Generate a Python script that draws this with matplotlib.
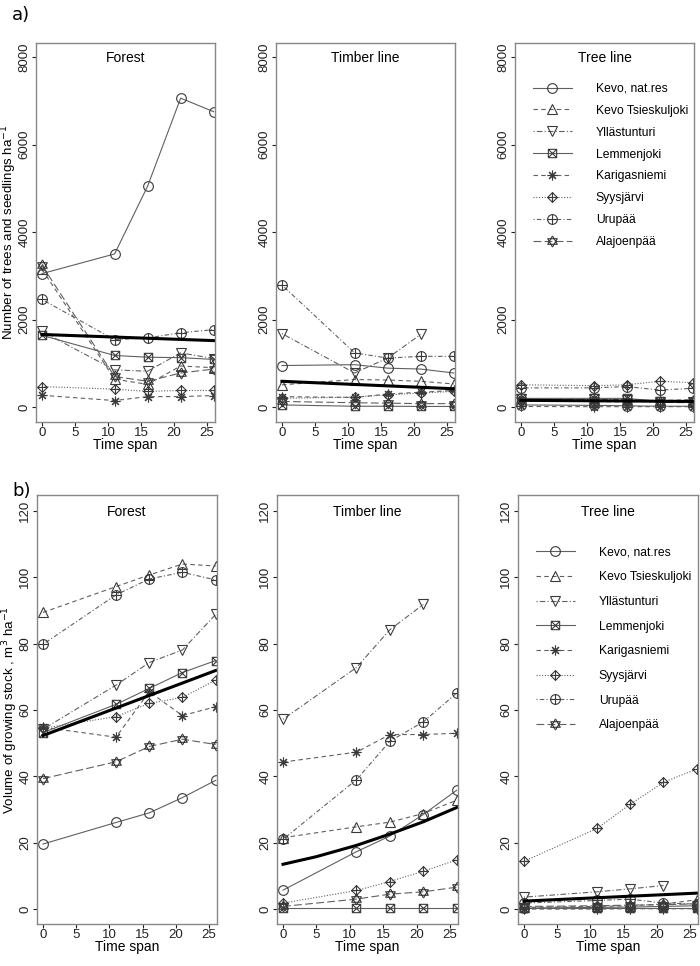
# Figure: a) number of trees and seedlings, b) volume of growing stock
import numpy as np
import matplotlib.pyplot as plt
from matplotlib.path import Path

plt.rcParams['font.family'] = ['Liberation Sans', 'DejaVu Sans']

nan = np.nan
years = [0, 11, 16, 21, 26]
sites = ["Kevo, nat.res", "Kevo Tsieskuljoki", "Yllästunturi", "Lemmenjoki",
         "Karigasniemi", "Syysjärvi", "Urupää", "Alajoenpää"]
zones = ["Forest", "Timber line", "Tree line"]

# a) trees and seedlings per ha, one row per site
trees_forest = [[3050, 3500, 5050, 7060, 6750],
                [3150, 640, 520, 940, 900],
                [1730, 850, 820, 1240, 1110],
                [1640, 1180, 1140, 1130, 1090],
                [270, 150, 240, 240, 265],
                [470, 410, 360, 380, 380],
                [2460, 1540, 1580, 1700, 1770],
                [3240, 700, 590, 780, 870]]
trees_timber = [[950, 970, 890, 870, 780],
                [510, 630, 620, 590, 530],
                [1680, 780, 1120, 1660, nan],
                [50, 20, 20, 15, 15],
                [240, 220, 300, 340, 380],
                [200, 230, 280, 320, 360],
                [2790, 1240, 1120, 1160, 1160],
                [130, 100, 90, 80, 80]]
trees_tree = [[50, 40, 30, 20, 20],
              [150, 130, 120, 150, 170],
              [190, 180, 170, 120, 110],
              [200, 200, 200, 130, 120],
              [15, 10, 10, 10, 10],
              [510, 490, 510, 590, 560],
              [440, 440, 470, 390, 430],
              [170, 160, 150, 110, 100]]

# b) volume of growing stock, m3 per ha
vol_forest = [[19.6, 26.1, 29.0, 33.6, 38.8],
              [89.4, 97.2, 100.7, 104.0, 103.4],
              [54.2, 67.5, 74.3, 78.1, 88.8],
              [53.2, 61.7, 66.5, 71.3, 74.9],
              [54.8, 51.8, 65.5, 58.3, 61.0],
              [54.5, 58.0, 62.0, 63.8, 69.0],
              [79.8, 94.7, 99.5, 101.5, 99.2],
              [39.3, 44.4, 49.0, 51.2, 49.6]]
vol_timber = [[5.7, 17.3, 22.0, 28.5, 35.8],
              [21.5, 24.8, 26.2, 28.8, 32.8],
              [57.2, 72.8, 84.2, 91.8, nan],
              [0.2, 0.2, 0.2, 0.2, 0.2],
              [44.3, 47.3, 52.6, 52.6, 53.0],
              [1.8, 5.6, 8.3, 11.4, 14.8],
              [21.0, 39.0, 50.6, 56.4, 65.1],
              [0.8, 3.0, 4.5, 5.2, 6.6]]
vol_tree = [[0.3, 0.5, 0.6, 0.8, 1.0],
            [0.5, 0.8, 1.0, 1.5, 2.8],
            [3.6, 5.2, 6.1, 7.1, nan],
            [0.2, 0.2, 0.2, 0.2, 0.2],
            [0.0, 0.0, 0.1, 0.1, 0.1],
            [14.4, 24.3, 31.6, 38.2, 42.2],
            [1.8, 2.6, 3.0, 1.8, 1.5],
            [0.8, 1.0, 1.2, 1.3, 1.6]]

# mean trend lines
trend_x = [0, 26]
trend_trees = [[1660, 1520], [590, 420], [155, 130]]
trend_vol_x = [[0, 26], [0, 5, 11, 16, 21, 26], [0, 26]]
trend_vol = [[52.3, 71.9], [13.5, 15.8, 19.2, 22.6, 26.3, 30.6], [2.4, 4.8]]

M, L = Path.MOVETO, Path.LINETO
sq_x = Path([(-1, -1), (1, -1), (1, 1), (-1, 1), (-1, -1), (-1, -1), (1, 1), (-1, 1), (1, -1)],
            [M, L, L, L, L, M, L, M, L])
dia_plus = Path([(0, 1), (1, 0), (0, -1), (-1, 0), (0, 1), (0, 1), (0, -1), (-1, 0), (1, 0)],
                [M, L, L, L, L, M, L, M, L])
circ_plus = Path.make_compound_path(Path.unit_circle(),
                                    Path([(-1, 0), (1, 0)], [M, L]),
                                    Path([(0, -1), (0, 1)], [M, L]))
david = Path([(0, 1), (0.866, -0.5), (-0.866, -0.5), (0, 1),
              (0, -1), (0.866, 0.5), (-0.866, 0.5), (0, -1)],
             [M, L, L, L, M, L, L, L])

markers = ['o', '^', 'v', sq_x, (8, 2, 0), dia_plus, circ_plus, david]
msizes = [7, 7, 7, 6, 7, 7, 7, 8]
styles = ['-', (0, (4, 3)), (0, (1, 2, 5, 2)), '-', (0, (4, 3)), (0, (1, 1.5)),
          (0, (1, 2, 4, 2)), (0, (7, 3))]
lcol = '#606060'
mcol = '#3a3a3a'

fig = plt.figure(figsize=(7, 9.66), dpi=100)


def panel(rect, data, tx, ty, title, ylim, yticks, ylabel=None, legend=False, leg_y=0.9, leg_sp=0.75):
    ax = fig.add_axes([rect[0] / 700, 1 - rect[3] / 966, (rect[2] - rect[0]) / 700,
                       (rect[3] - rect[1]) / 966])
    for i, vals in enumerate(data):
        ax.plot(years, vals, color=lcol, lw=0.8, linestyle=styles[i], marker=markers[i],
                ms=msizes[i], mfc='none', mec=mcol, mew=0.8, label=sites[i])
    ax.plot(tx, ty, color='black', lw=2.2)
    ax.set_xlim(-0.9, 26.2)
    ax.set_ylim(*ylim)
    ax.set_xticks([0, 5, 10, 15, 20, 25])
    ax.set_yticks(yticks)
    ax.tick_params(direction='out', length=3, width=0.8, labelsize=9.5, colors='#222222')
    ax.tick_params(axis='x', pad=0.5)
    ax.tick_params(axis='y', labelrotation=90, pad=1)
    for lab in ax.get_yticklabels():
        lab.set_va('center')
    for s in ax.spines.values():
        s.set_color('#888888')
        s.set_linewidth(1.0)
    ax.set_xlabel("Time span", fontsize=10, labelpad=-0.5)
    if ylabel:
        ax.set_ylabel(ylabel, fontsize=9.6)
        ax.yaxis.set_label_coords(-17 / (rect[2] - rect[0]), 0.5)
    ax.text(0.5, 0.96, title, transform=ax.transAxes, ha='center', va='center', fontsize=10)
    if legend:
        ax.legend(loc='upper left', bbox_to_anchor=(0.1, leg_y), frameon=False, fontsize=8.7,
                  handlelength=3.2, handletextpad=2.0, labelspacing=leg_sp, borderpad=0,
                  borderaxespad=0)
    return ax


top_rects = [(36, 43, 215, 422), (276, 43, 455, 422), (515, 43, 694, 422)]
bot_rects = [(37, 495, 217, 924), (277, 495, 458, 924), (518, 495, 698, 924)]
trees = [trees_forest, trees_timber, trees_tree]
vols = [vol_forest, vol_timber, vol_tree]

for k in range(3):
    panel(top_rects[k], trees[k], trend_x, trend_trees[k], zones[k], (-340, 8320),
          [0, 2000, 4000, 6000, 8000],
          ylabel="Number of trees and seedlings ha$^{-1}$" if k == 0 else None,
          legend=(k == 2), leg_y=0.895, leg_sp=0.82)
    panel(bot_rects[k], vols[k], trend_vol_x[k], trend_vol[k], zones[k], (-4.5, 124.8),
          [0, 20, 40, 60, 80, 100, 120],
          ylabel="Volume of growing stock , m$^3$ ha$^{-1}$" if k == 0 else None,
          legend=(k == 2), leg_y=0.88, leg_sp=1.05)

fig.text(12 / 700, 1 - 15 / 966, "a)", fontsize=13, family='DejaVu Sans', va='center')
fig.text(12 / 700, 1 - 491 / 966, "b)", fontsize=13, family='DejaVu Sans', va='center')

plt.savefig("out.png")
